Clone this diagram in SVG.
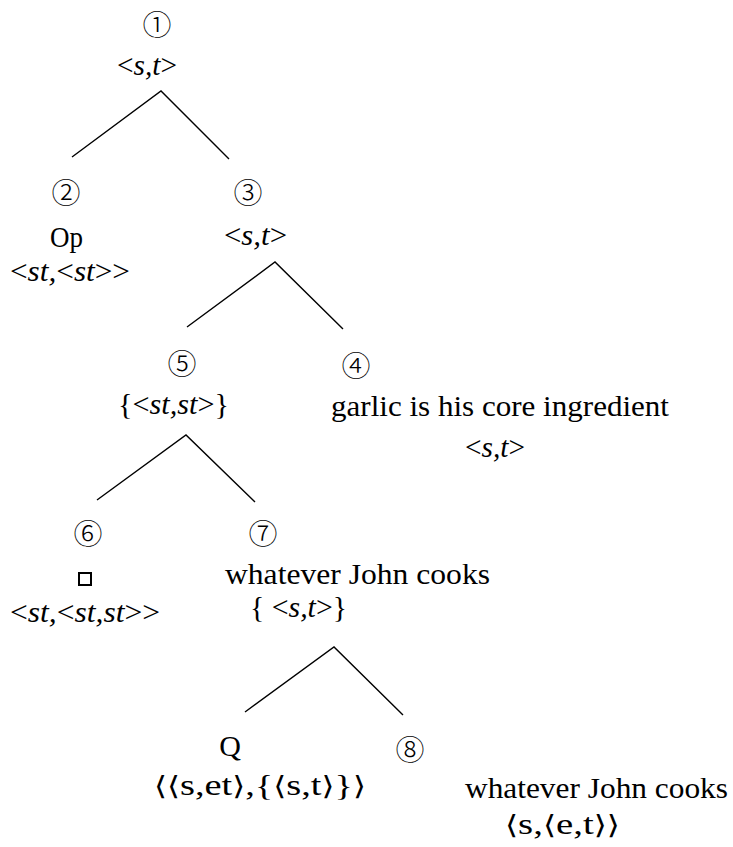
<svg xmlns="http://www.w3.org/2000/svg" width="733" height="847" viewBox="0 0 733 847">
  <style>
    .t { font-family: "Liberation Serif", "DejaVu Serif", serif; font-size: 30px; fill: #000; }
    .i { font-style: italic; }
    .num { font-family: "Noto Sans CJK KR", "DejaVu Sans", sans-serif; font-size: 29px; font-weight: 300; fill: #000; text-anchor: middle; }
    .ang { font-family: "DejaVu Sans", "Noto Sans CJK KR", sans-serif; font-size: 26px; }
    .edge { stroke: #000; stroke-width: 1.4; fill: none; }
  </style>

  <!-- branches of the tree -->
  <g id="edges">
    <path class="edge" d="M72,157 L161,91 L229,159"/>
    <path class="edge" d="M187,327 L275,262 L343,329"/>
    <path class="edge" d="M97,500 L186,435 L255,502"/>
    <path class="edge" d="M245,712 L334,647 L403,715"/>
  </g>

  <g id="n1">
    <text class="num" x="157" y="36">①</text>
    <text class="t" x="117" y="75" textLength="60" lengthAdjust="spacingAndGlyphs">&lt;<tspan class="i">s,t</tspan>&gt;</text>
  </g>

  <g id="n2">
    <text class="num" x="66" y="204">②</text>
    <text class="t" x="50" y="247" font-size="27" textLength="33" lengthAdjust="spacingAndGlyphs">Op</text>
    <text class="t" x="10" y="281" textLength="120" lengthAdjust="spacingAndGlyphs">&lt;<tspan class="i">st,</tspan>&lt;<tspan class="i">st</tspan>&gt;&gt;</text>
  </g>

  <g id="n3">
    <text class="num" x="248" y="204">③</text>
    <text class="t" x="224" y="245" textLength="63" lengthAdjust="spacingAndGlyphs">&lt;<tspan class="i">s,t</tspan>&gt;</text>
  </g>

  <g id="n5">
    <text class="num" x="182" y="375">⑤</text>
    <text class="t" x="118" y="414" textLength="111" lengthAdjust="spacingAndGlyphs">{&lt;<tspan class="i">st,st</tspan>&gt;}</text>
  </g>

  <g id="n4">
    <text class="num" x="356" y="377">④</text>
    <text class="t" x="331" y="416" textLength="338" lengthAdjust="spacingAndGlyphs">garlic is his core ingredient</text>
    <text class="t" x="465" y="457" textLength="60" lengthAdjust="spacingAndGlyphs">&lt;<tspan class="i">s,t</tspan>&gt;</text>
  </g>

  <g id="n6">
    <text class="num" x="88" y="545">⑥</text>
    <rect x="79" y="573" width="12" height="12" fill="none" stroke="#000" stroke-width="2"/>
    <text class="t" x="10" y="622" textLength="150" lengthAdjust="spacingAndGlyphs">&lt;<tspan class="i">st,</tspan>&lt;<tspan class="i">st,st</tspan>&gt;&gt;</text>
  </g>

  <g id="n7">
    <text class="num" x="263" y="545">⑦</text>
    <text class="t" x="225" y="584" textLength="265" lengthAdjust="spacingAndGlyphs">whatever John cooks</text>
    <text class="t" x="250" y="617" textLength="97" lengthAdjust="spacingAndGlyphs">{ &lt;<tspan class="i">s,t</tspan>&gt;}</text>
  </g>

  <g id="nQ">
    <text class="t" x="230" y="756" text-anchor="middle">Q</text>
    <text class="t" x="154" y="795" textLength="212" lengthAdjust="spacingAndGlyphs"><tspan class="ang">⟨⟨</tspan>s,et<tspan class="ang">⟩</tspan>,{<tspan class="ang">⟨</tspan>s,t<tspan class="ang">⟩</tspan>}<tspan class="ang">⟩</tspan></text>
  </g>

  <g id="n8">
    <text class="num" x="410" y="761">⑧</text>
    <text class="t" x="465" y="798" textLength="263" lengthAdjust="spacingAndGlyphs">whatever John cooks</text>
    <text class="t" x="505" y="834" textLength="115" lengthAdjust="spacingAndGlyphs"><tspan class="ang">⟨</tspan>s,<tspan class="ang">⟨</tspan>e,t<tspan class="ang">⟩⟩</tspan></text>
  </g>
</svg>
